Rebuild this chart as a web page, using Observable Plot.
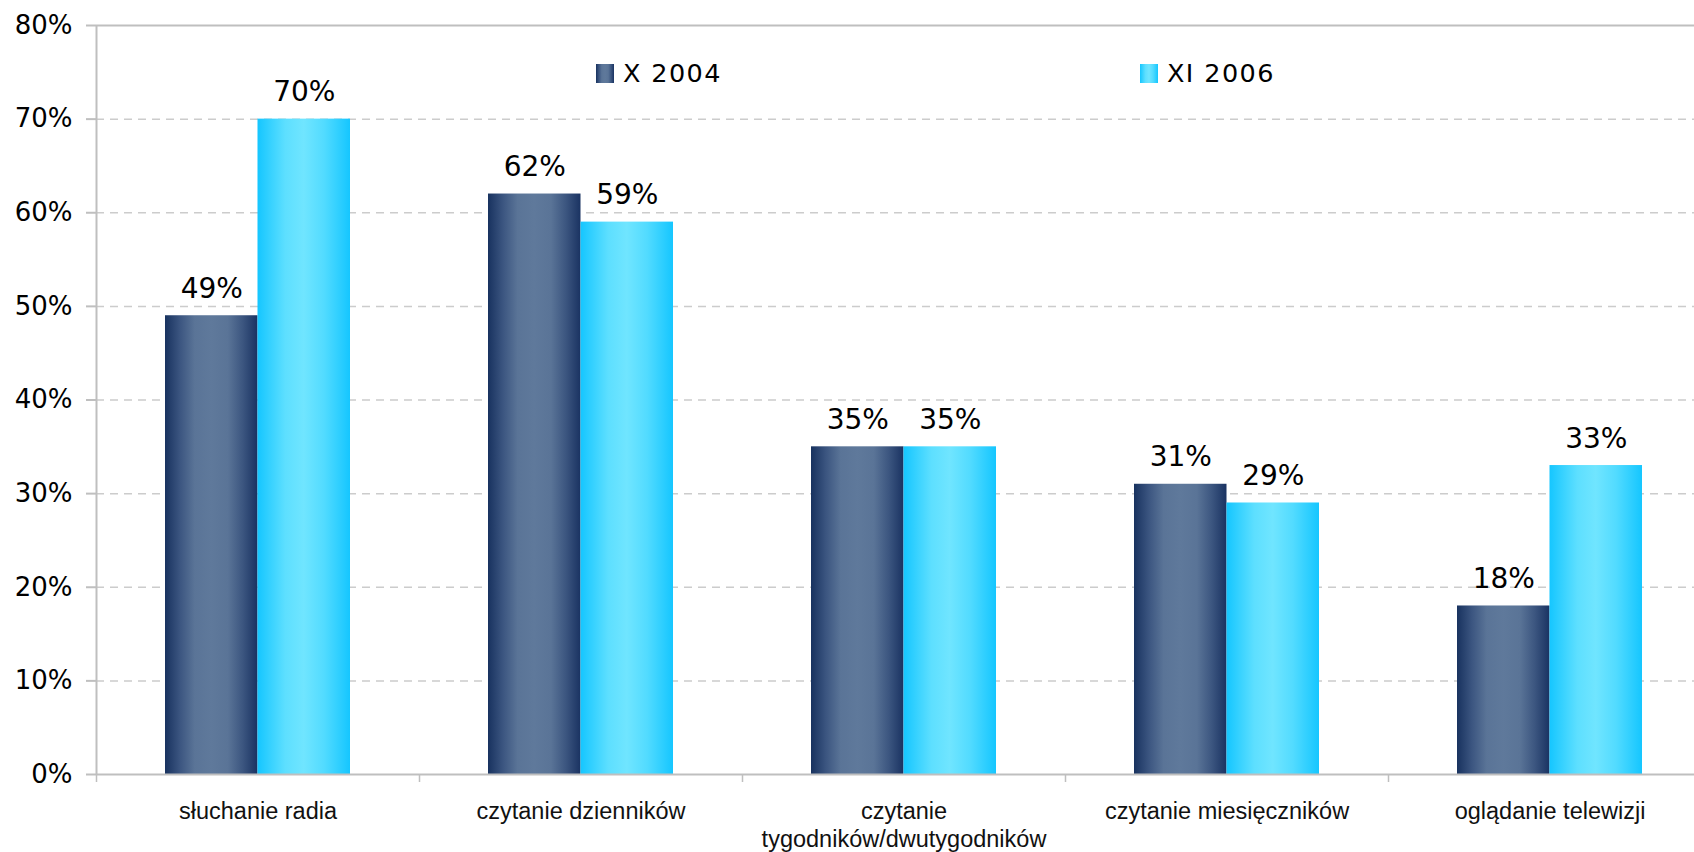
<!DOCTYPE html>
<html>
<head>
<meta charset="utf-8">
<script src="https://cdn.jsdelivr.net/npm/d3@7"></script>
<script src="https://cdn.jsdelivr.net/npm/@observablehq/plot@0.6"></script>
<style>
  html, body { margin: 0; padding: 0; background: #fff; overflow: hidden; }
  #chart { position: relative; width: 1694px; height: 852px; overflow: hidden; }
  #chart svg { display: block; max-width: none; }
</style>
</head>
<body>
<div id="chart"></div>
<script>
// ---- data ----
const categories = [
  "słuchanie radia",
  "czytanie dzienników",
  "czytanie\ntygodników/dwutygodników",
  "czytanie miesięczników",
  "oglądanie telewizji"
];
const series = ["X 2004", "XI 2006"];
const values2004 = [49, 62, 35, 31, 18];
const values2006 = [70, 59, 35, 29, 33];
const yTicks = [0, 10, 20, 30, 40, 50, 60, 70, 80];

// ---- layout ----
const W = 1694, H = 852;
const xRange = [96, 1711];            // plot area continues past the right edge (cropped)
const half = (xRange[1] - xRange[0]) / categories.length / 2;
const barW = 92.5;
const axisColor = "#bfbfbf";

const rows2004 = categories.map((c, i) => ({category: c, value: values2004[i]}));
const rows2006 = categories.map((c, i) => ({category: c, value: values2006[i]}));

const chart = Plot.plot({
  width: W,
  height: H,
  marginLeft: 96,
  marginRight: 0,
  marginTop: 25,
  marginBottom: 78,
  style: {background: "#fff", overflow: "hidden", maxWidth: "none"},
  x: {domain: categories, range: xRange, padding: 0, label: null},
  y: {domain: [0, 80], label: null},
  marks: [
    Plot.gridY({ticks: yTicks.filter(d => d > 0 && d < 80), stroke: "#cccccc", strokeOpacity: 1,
                strokeWidth: 1.5, strokeDasharray: "8,6"}),
    Plot.ruleY([80], {stroke: axisColor, strokeWidth: 2}),
    Plot.barY(rows2004, {x: "category", y: "value", fill: "url(#gDark)",
                         insetLeft: half - barW, insetRight: half}),
    Plot.barY(rows2006, {x: "category", y: "value", fill: "url(#gLight)",
                         insetLeft: half, insetRight: half - barW}),
    Plot.ruleY([0], {stroke: axisColor, strokeWidth: 2}),
    Plot.ruleX([categories[0]], {x: d => d, dx: -half, y1: 0, y2: 80, stroke: axisColor, strokeWidth: 2}),
    Plot.axisY({ticks: yTicks, tickFormat: d => d + "%", tickSize: 10, tickPadding: 14, label: null,
                fontSize: 26, fontFamily: "DejaVu Sans", stroke: axisColor, strokeWidth: 2, fill: "#000"}),
    Plot.axisX({tickSize: 8, tickFormat: () => "", dx: -half, label: null, stroke: axisColor, strokeWidth: 1.5}),
    Plot.axisX({tickSize: 0, tickPadding: 24, fontSize: 23.5, fontFamily: "Liberation Sans", label: null,
                lineHeight: 1.2, fill: "#111"}),
    Plot.text(rows2004, {x: "category", y: "value", text: d => d.value + "%", dx: -barW / 2, dy: -18,
                         lineAnchor: "bottom", fontSize: 28, fontFamily: "DejaVu Sans", fill: "#000"}),
    Plot.text(rows2006, {x: "category", y: "value", text: d => d.value + "%", dx: barW / 2, dy: -18,
                         lineAnchor: "bottom", fontSize: 28, fontFamily: "DejaVu Sans", fill: "#000"})
  ]
});

document.getElementById("chart").appendChild(chart);

// ---- gradients ----
const svg = d3.select(chart);
const defs = svg.insert("defs", ":first-child");
function grad(id, stops) {
  const g = defs.append("linearGradient").attr("id", id)
    .attr("x1", "0").attr("x2", "1").attr("y1", "0").attr("y2", "0");
  stops.forEach(([o, c]) => g.append("stop").attr("offset", o).attr("stop-color", c));
}
grad("gDark", [[0, "#18325f"], [0.16, "#3b5580"], [0.32, "#5a7497"], [0.5, "#5f799b"],
               [0.68, "#5a7497"], [0.84, "#3c5680"], [1, "#1a3362"]]);
grad("gLight", [[0, "#15c6ff"], [0.3, "#5ddfff"], [0.5, "#70e5ff"], [0.72, "#52dbff"], [1, "#15c6ff"]]);

// ---- legend ----
const legend = svg.append("g").attr("class", "legend").attr("text-anchor", "start");
const legendPos = [{x: 596, fill: "url(#gDark)"}, {x: 1140, fill: "url(#gLight)"}];
series.forEach((s, i) => {
  const p = legendPos[i];
  legend.append("rect").attr("x", p.x).attr("y", 64).attr("width", 18).attr("height", 19).attr("fill", p.fill);
  legend.append("text").attr("x", p.x + 27).attr("y", 82).attr("text-anchor", "start")
    .attr("font-family", "DejaVu Sans").attr("font-size", 25.5).attr("letter-spacing", "1.4px")
    .attr("fill", "#000").text(s);
});
</script>
</body>
</html>
